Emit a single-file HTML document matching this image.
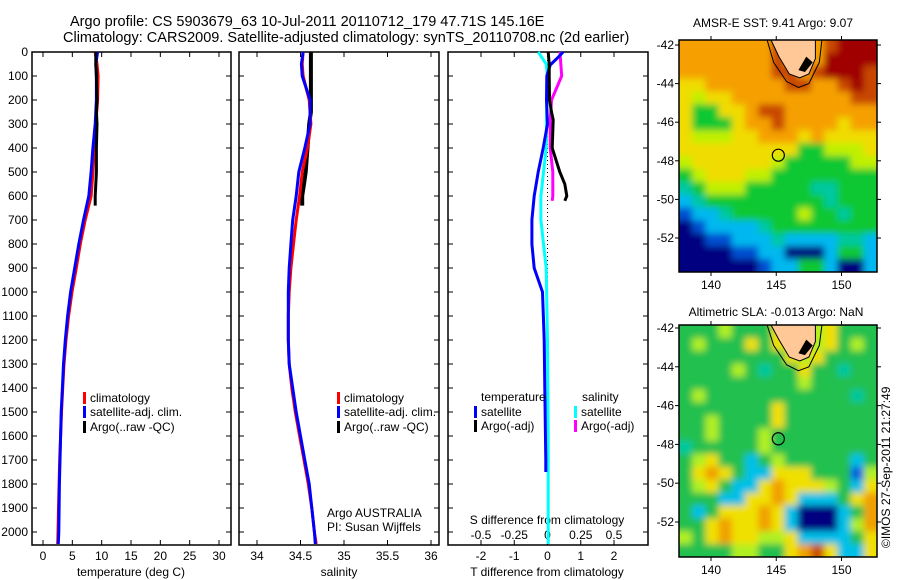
<!DOCTYPE html>
<html><head><meta charset="utf-8"><style>
body{margin:0;background:#fff;}
svg{display:block;font-family:"Liberation Sans",sans-serif;}
</style></head><body>
<svg id="c" width="900" height="580" xmlns="http://www.w3.org/2000/svg">
<defs>
<filter id="blur" x="-5%" y="-5%" width="110%" height="110%"><feGaussianBlur stdDeviation="3.5"/></filter>
<clipPath id="clip1"><rect x="679" y="40" width="198" height="232"/></clipPath>
<clipPath id="clip2"><rect x="679" y="325" width="198" height="232"/></clipPath>
</defs>
<text x="70" y="26" font-size="14.5">Argo profile: CS 5903679_63 10-Jul-2011 20110712_179 47.71S 145.16E</text>
<text x="63" y="42" font-size="14.5">Climatology: CARS2009. Satellite-adjusted climatology: synTS_20110708.nc (2d earlier)</text>
<text x="773" y="27" font-size="12" text-anchor="middle">AMSR-E SST: 9.41 Argo: 9.07</text>
<text x="776" y="316" font-size="12" text-anchor="middle">Altimetric SLA: -0.013 Argo: NaN</text>
<text transform="translate(890,548) rotate(-90)" font-size="12">©IMOS 27-Sep-2011 21:27:49</text>
<g id="g"></g>
</svg>
<script>
// ---------- data ----------
const depthTicks=[0,100,200,300,400,500,600,700,800,900,1000,1100,1200,1300,1400,1500,1600,1700,1800,1900,2000];
const tTicks=[0,5,10,15,20,25,30];
const sTicks=[34,34.5,35,35.5,36];
const tdTicks=[-2,-1,0,1,2];
const sdTicks=[-0.5,-0.25,0,0.25,0.5];
const sdTickLabels=["-0.5","-0.25","0","0.25","0.5"];
const depthClim=[0,50,100,200,300,400,500,600,700,800,900,1000,1100,1200,1300,1400,1500,1600,1700,1800,1900,2000,2050];
const tempClim=[8.9,9.2,9.4,9.3,9.0,8.75,8.5,8.2,7.2,6.36,5.68,4.94,4.37,3.92,3.58,3.35,3.15,3.0,2.85,2.75,2.65,2.55,2.5];
const tempSat=[9.3,9.0,9.1,9.1,8.9,8.5,8.2,7.8,6.9,6.1,5.4,4.7,4.2,3.8,3.5,3.3,3.1,3.0,2.9,2.8,2.75,2.7,2.6];
const depthArgo=[0,50,100,200,250,300,400,500,550,600,640];
const tempArgo=[9.0,9.0,9.1,9.2,9.1,9.2,9.1,9.1,9.0,8.9,8.9];
const salClim=[34.53,34.52,34.53,34.6,34.62,34.58,34.52,34.49,34.45,34.42,34.39,34.37,34.36,34.36,34.37,34.4,34.44,34.49,34.54,34.59,34.63,34.66,34.68];
const salSat=[34.53,34.51,34.52,34.61,34.61,34.55,34.48,34.45,34.41,34.39,34.37,34.36,34.36,34.36,34.37,34.41,34.45,34.5,34.55,34.6,34.63,34.66,34.67];
const salArgo=[34.62,34.62,34.62,34.62,34.62,34.6,34.58,34.56,34.54,34.52,34.52];
const depthDiff=[0,25,54,100,200,300,400,500,600,700,800,900,1000,1200,1400,1700,1750];
const tDiffSat=[0.47,0.3,0.08,-0.02,-0.03,0,-0.13,-0.28,-0.4,-0.47,-0.47,-0.4,-0.15,-0.1,-0.08,-0.05,-0.05];
const depthArgoDiff=[0,50,100,200,250,283,400,500,550,600,620];
const tDiffArgo=[0.02,0.05,0.05,0.06,0.12,0.17,0.14,0.37,0.52,0.58,0.52];
const sDiffArgo=[0.094,0.1,0.107,0.03,0.025,0.02,0.02,0.04,0.04,0.04,0.035];
const depthSDiff=[0,50,100,200,400,500,600,700,800,900,1200,1600,2050];
const sDiffSat=[-0.07,-0.01,0,-0.005,-0.01,-0.03,-0.05,-0.05,-0.03,-0.01,0,0.005,0.005];
const lonTicks=[140,145,150];
const latTicks=[-42,-44,-46,-48,-50,-52];
const sstGrid=[
"OOOOOOORSSSRDDD","OOOOOOORSSSDDDD","OOOOOOORRSRDDDR","YYOOOOOORROORDR",
"YLYYOOOOOOOOORR","YGGYYORROOOOOOO","YGGGYOOROOOOYOO","YLLLYYOOOYOYYYY",
"YYYYYYYYYGGLLLY","LYYYYYYLGGGGGLL","GLYYYLLGGGGGGGG","TGLLLGGGGGTTGGG",
"CTGGGGGGGGGTGGG","BCCTGGGGGLGGTGG","NBCCCCTGGGGGGGG","NNBBCCCTCCCCTTC",
"NNNNBBCCNNNCGGC","NNNNNNBCCGGCNNC"];
const slaGrid=[
"GGGLGGGYSSSYGGG","GLGGGYGYSSSYGLG","GGGGGGGGYSYGGGG","GGGGLGTGGYGGTGG",
"GGGGGGGGGLGGGGG","GLGGGGGGGGGGGTG","GGGGGGGYGGGGGGG","GGLGGGGYGGGGGGG",
"GGLGGGLGGGGGGGG","TGGGGGLGGGGGGGG","GLYGGCGLGGGGGCG","GYOYGCCYYYGGGBL",
"GLYGCCYOYYYLGCY","GGGCCYYOYCCCGYO","GCGYYYOYCNNNCGO","GGYOYYOYCNNNCLO",
"LGYOYYLLYCCCCGY","GGGGLLGGYORYCCY"];
const argoLon=145.16, argoLat=-47.71;
// ---------- helpers ----------
const NS="http://www.w3.org/2000/svg";
const G=document.getElementById('g');
function mk(t,a,p){const e=document.createElementNS(NS,t);for(const k in a)e.setAttribute(k,a[k]);(p||G).appendChild(e);return e;}
const yTop=52, yBot=545;
const yD=d=>yTop+d*0.24;
const panels=[
 {x0:32,x1:231,f:v=>43+(v-0)*5.8667,name:'temperature'},
 {x0:239,x1:439,f:v=>257+(v-34)*87,name:'salinity'},
 {x0:448,x1:648,f:v=>547.5+v*33.25,name:'difference'}];
const sx=v=>547.5+v*133;
function line(xs,ds,fx,col,name,w){
 const pts=xs.map((v,i)=>fx(v).toFixed(1)+','+yD(ds[i]).toFixed(1)).join(' ');
 const e=mk('polyline',{points:pts,fill:'none',stroke:col,'stroke-width':w||3});
 
 
}
panels.forEach((p,pi)=>{
 const fr=mk('rect',{x:p.x0,y:yTop,width:p.x1-p.x0,height:yBot-yTop,fill:'none',stroke:'#000','stroke-width':1.5});
 
 
 depthTicks.forEach(d=>{
  mk('line',{x1:p.x0,x2:p.x0+5,y1:yD(d),y2:yD(d),stroke:'#000'});
  mk('line',{x1:p.x1,x2:p.x1-5,y1:yD(d),y2:yD(d),stroke:'#000'});
 });
 const tk=pi==0?tTicks:pi==1?sTicks:tdTicks;
 tk.forEach(v=>{const x=p.f(v);
  mk('line',{x1:x,x2:x,y1:yTop,y2:yTop+5,stroke:'#000'});
  mk('line',{x1:x,x2:x,y1:yBot,y2:yBot-5,stroke:'#000'});
  const t=mk('text',{x:x,y:560,'font-size':12,'text-anchor':'middle'});t.textContent=String(v);
  
  
 });
});
depthTicks.forEach(d=>{const t=mk('text',{x:28,y:yD(d)+4,'font-size':12,'text-anchor':'end'});t.textContent=d;
 
 });
sdTicks.forEach((v,i)=>{const t=mk('text',{x:sx(v),y:539,'font-size':12,'text-anchor':'middle'});t.textContent=sdTickLabels[i];
 
 });
[[131,'temperature (deg C)','x-axis-title-temperature'],[339,'salinity','x-axis-title-salinity'],[547,'T difference from climatology','x-axis-title-t-diff']].forEach(a=>{
 const t=mk('text',{x:a[0],y:576,'font-size':12,'text-anchor':'middle'});t.textContent=a[1];
 
 });
{const t=mk('text',{x:547,y:524,'font-size':12,'text-anchor':'middle'});t.textContent='S difference from climatology';
 
 }
{const e=mk('line',{x1:547.5,x2:547.5,y1:yTop,y2:yBot,stroke:'#000','stroke-dasharray':'1,3'});
 
 }
line(tempClim,depthClim,panels[0].f,'#ff0000','temp-climatology');
line(tempSat,depthClim,panels[0].f,'#0000ff','temp-satellite-adj');
line(tempArgo,depthArgo,panels[0].f,'#000','temp-argo');
line(salArgo,depthArgo,panels[1].f,'#000','sal-argo',4);
line(salClim,depthClim,panels[1].f,'#ff0000','sal-climatology');
line(salSat,depthClim,panels[1].f,'#0000ff','sal-satellite-adj');
line(sDiffSat,depthSDiff,sx,'#00ffff','s-diff-satellite');
line(sDiffArgo,depthArgoDiff,sx,'#ff00ff','s-diff-argo');
line(tDiffSat,depthDiff,panels[2].f,'#0000ff','t-diff-satellite');
line(tDiffArgo,depthArgoDiff,panels[2].f,'#000','t-diff-argo');
function leg(x,y,col,label,name){
 const r=mk('rect',{x:x,y:y-10,width:3,height:12,fill:col});
 
 
 const t=mk('text',{x:x+7,y:y,'font-size':12});t.textContent=label;
 
 
}
leg(83,402,'#ff0000','climatology','legend-climatology');
leg(83,416,'#0000ff','satellite-adj. clim.','legend-satellite-adj');
leg(83,431,'#000','Argo(..raw -QC)','legend-argo');
leg(337,402,'#ff0000','climatology','legend2-climatology');
leg(337,416,'#0000ff','satellite-adj. clim.','legend2-satellite-adj');
leg(337,431,'#000','Argo(..raw -QC)','legend2-argo');
{const t=mk('text',{x:481,y:401,'font-size':12});t.textContent='temperature';}
{const t=mk('text',{x:582,y:401,'font-size':12});t.textContent='salinity';}
leg(474,416,'#0000ff','satellite','legend-t-satellite');
leg(474,430,'#000','Argo(-adj)','legend-t-argo');
leg(574,416,'#00ffff','satellite','legend-s-satellite');
leg(574,430,'#ff00ff','Argo(-adj)','legend-s-argo');
{const t=mk('text',{x:327,y:517,'font-size':12});t.textContent='Argo AUSTRALIA';}
{const t=mk('text',{x:327,y:531,'font-size':12});t.textContent='PI: Susan Wijffels';}
const pal={D:'#a00000',R:'#c84600',O:'#f5a000',Y:'#f0dc00',L:'#c0f000',G:'#10c830',T:'#00c8a0',C:'#00b8f0',B:'#0050d0',N:'#000080',S:'#f5a000'};
const palSla={G:'#20c050',L:'#b0f020',Y:'#f0e000',O:'#f0a000',R:'#c85000',T:'#00c8a0',C:'#00c0e8',B:'#0060e0',N:'#000080',S:'#b0f020'};
function drawMap(mx0,my0,mx1,my1,grid,pl,name,latY0,latY1,clip){
 const lx=lon=>711+(lon-140)*13.05;
 const ly=lat=>latY0+(lat+42)/(-10)*(latY1-latY0);
 const rows=grid.length, cols=grid[0].length, cw=(mx1-mx0)/cols, ch=(my1-my0)/rows;
 const outer=mk('g',{'clip-path':`url(#${clip})`});
 const gg=mk('g',{filter:'url(#blur)'},outer);
 
 
 grid.forEach((row,r)=>{for(let c=0;c<cols;c++){
  const cell=mk('rect',{x:(mx0+c*cw-(c==0?8:0)).toFixed(1),y:(my0+r*ch-(r==0?8:0)).toFixed(1),width:(cw+0.6+(c==0||c==cols-1?8:0)).toFixed(1),height:(ch+0.6+(r==0||r==rows-1?8:0)).toFixed(1),fill:pl[row[c]]},gg);
  
  
 }});
 const ct=mk('path',{d:`M${lx(144.3)},${my0} L${lx(144.8)},${ly(-42.9)} L${lx(145.8)},${ly(-43.9)} L${lx(146.7)},${ly(-44.2)} L${lx(147.5)},${ly(-44.0)} L${lx(148.3)},${ly(-42.9)} L${lx(148.5)},${my0}`,fill:'none',stroke:'#000','stroke-width':1});
 
 
 const land=mk('path',{d:`M${lx(144.6)},${my0} L${lx(148.0)},${my0} L${lx(148.0)},${ly(-42.7)} L${lx(147.5)},${ly(-43.5)} L${lx(146.8)},${ly(-43.7)} L${lx(146.0)},${ly(-43.5)} L${lx(145.2)},${ly(-42.6)} Z`,fill:'#ffc896',stroke:'#000','stroke-width':1});
 
 
 const lake=mk('path',{d:`M${lx(147.3)},${ly(-42.6)} L${lx(147.8)},${ly(-42.9)} L${lx(147.2)},${ly(-43.4)} L${lx(146.7)},${ly(-43.3)} Z`,fill:'#000'});
 
 
 const fr=mk('rect',{x:mx0,y:my0,width:mx1-mx0,height:my1-my0,fill:'none',stroke:'#000','stroke-width':1.5});
 
 
 const ci=mk('circle',{cx:lx(argoLon),cy:ly(argoLat),r:6,fill:'none',stroke:'#000','stroke-width':1.2});
 
 
 lonTicks.forEach(v=>{const x=lx(v);
  mk('line',{x1:x,x2:x,y1:my0,y2:my0-4,stroke:'#000'});
  mk('line',{x1:x,x2:x,y1:my1,y2:my1+4,stroke:'#000'});
  const t=mk('text',{x:x,y:my1+17,'font-size':12,'text-anchor':'middle'});t.textContent=v;
  
  });
 latTicks.forEach(v=>{const y=ly(v);
  mk('line',{x1:mx0,x2:mx0-4,y1:y,y2:y,stroke:'#000'});
  mk('line',{x1:mx1,x2:mx1+4,y1:y,y2:y,stroke:'#000'});
  const t=mk('text',{x:mx0-5,y:y+4,'font-size':12,'text-anchor':'end'});t.textContent=v;
  
  });
}
drawMap(679,40,877,272,sstGrid,pal,'sst-map',45,238,'clip1');
drawMap(679,325,877,557,slaGrid,palSla,'sla-map',328,522,'clip2');
</script>
</body></html>
